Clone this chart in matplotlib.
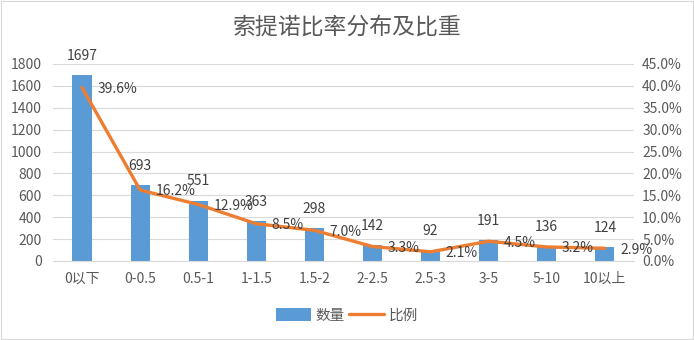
import matplotlib
matplotlib.use("Agg")
import matplotlib.pyplot as plt
from matplotlib.patches import Rectangle
from matplotlib.ticker import FuncFormatter, MultipleLocator

plt.rcParams['font.family'] = ['Noto Sans CJK SC', 'DejaVu Sans']

categories = ['0以下', '0-0.5', '0.5-1', '1-1.5', '1.5-2', '2-2.5', '2.5-3', '3-5', '5-10', '10以上']
counts = [1697, 693, 551, 363, 298, 142, 92, 191, 136, 124]
ratios = [39.6, 16.2, 12.9, 8.5, 7.0, 3.3, 2.1, 4.5, 3.2, 2.9]

bar_color = '#5B9BD5'
line_color = '#ED7D31'
text_color = '#595959'
grid_color = '#D9D9D9'

fig = plt.figure(figsize=(6.94, 3.40), dpi=100)
fig.patches.append(Rectangle((0.001, 0.002), 0.997, 0.995, transform=fig.transFigure,
                             fill=False, edgecolor='#D9D9D9', linewidth=0.8))

ax = fig.add_axes([0.0764, 0.2324, 0.837, 0.5796])
ax2 = ax.twinx()

x = list(range(len(categories)))
ax.bar(x, counts, width=0.33, color=bar_color, zorder=2, label='数量')
ax.set_ylim(0, 1800)
ax.set_xlim(-0.5, len(categories) - 0.5)
ax.yaxis.set_major_locator(MultipleLocator(200))
ax.grid(axis='y', color=grid_color, linewidth=0.8, zorder=0)
ax.set_axisbelow(True)
ax.set_xticks(x)
ax.set_xticklabels(categories)

ax2.plot(x, ratios, color=line_color, linewidth=2.4, solid_capstyle='round', zorder=3, label='比例')
ax2.set_ylim(0, 45)
ax2.yaxis.set_major_locator(MultipleLocator(5))
ax2.yaxis.set_major_formatter(FuncFormatter(lambda v, p: f'{v:.1f}%'))

for a in (ax, ax2):
    for s in a.spines.values():
        s.set_visible(False)
    a.tick_params(length=0, colors=text_color, labelsize=10)
ax.spines['bottom'].set_visible(True)
ax.spines['bottom'].set_color(grid_color)
ax.tick_params(axis='x', pad=8)
ax.tick_params(axis='y', pad=8)
ax2.tick_params(axis='y', pad=6)

for xi, c in zip(x, counts):
    ax.annotate(f'{c}', (xi, c), xytext=(0, 9), textcoords='offset points',
                ha='center', va='bottom', fontsize=10, color='#404040', zorder=5)
for xi, r in zip(x, ratios):
    ax2.annotate(f'{r:.1f}%', (xi, r), xytext=(11, -1), textcoords='offset points',
                 ha='left', va='center', fontsize=10, color='#404040', zorder=5)

fig.text(0.5, 0.92, '索提诺比率分布及比重', ha='center', va='center', fontsize=16.5, color=text_color)

h1, l1 = ax.get_legend_handles_labels()
h2, l2 = ax2.get_legend_handles_labels()
fig.legend(h1 + h2, l1 + l2, loc='center', bbox_to_anchor=(0.5, 0.072), ncol=2, frameon=False,
           fontsize=10.5, labelcolor=text_color, handlelength=2.4, handleheight=0.9,
           columnspacing=0.3, handletextpad=0.3)

fig.savefig('out.png', dpi=100)
